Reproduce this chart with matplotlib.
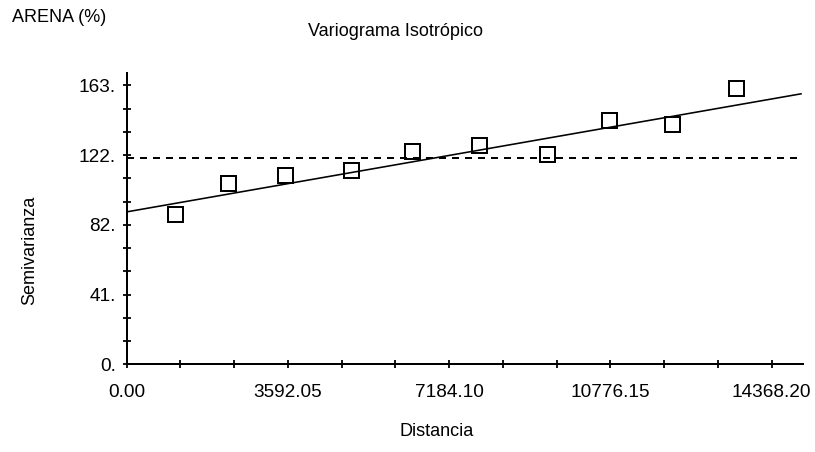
import matplotlib
matplotlib.use("Agg")
import matplotlib.pyplot as plt

# Experimental variogram points (distance, semivariance)
distancia = [1076, 2250, 3526, 4990, 6349, 7857, 9363, 10744, 12139, 13573]
semivarianza = [88.1, 106.0, 110.5, 113.4, 124.7, 127.9, 122.7, 142.9, 140.5, 161.6]

# Fitted linear model and sill (variance)
modelo_x = [0, 15021]
modelo_y = [89.1, 158.1]
meseta_x = [0, 14950]
meseta_y = [120.5, 120.5]

# Axis ticks
xtick_step = 1197.35
xticks = [i * xtick_step for i in range(13)]
xtick_labels = ["0.00", "", "", "3592.05", "", "", "7184.10", "", "",
                "10776.15", "", "", "14368.20"]
ytick_step = 163.0 / 12
yticks = [i * ytick_step for i in range(13)]
ytick_labels = ["0.", "", "", "41.", "", "", "82.", "", "",
                "122.", "", "", "163."]

plt.rcParams['font.family'] = ['Liberation Sans', 'DejaVu Sans']

W, H = 815, 452
fig = plt.figure(figsize=(W / 72, H / 72), dpi=72)
ax = fig.add_axes([126.7 / W, 1 - 364.3 / H, (803.3 - 126.7) / W, (364.3 - 73.3) / H])

ax.plot(modelo_x, modelo_y, color='black', lw=1.6, zorder=2)
ax.plot(meseta_x, meseta_y, color='black', lw=2, dashes=(3.5, 3), zorder=2)
ax.plot(distancia, semivarianza, linestyle='none', marker='s', ms=15,
        mfc='none', mec='black', mew=2, zorder=3)

ax.set_xlim(0, 15072)
ax.set_ylim(0, 170.1)
ax.set_xticks(xticks)
ax.set_xticklabels(xtick_labels)
ax.set_yticks(yticks)
ax.set_yticklabels(ytick_labels)

for s in ['top', 'right']:
    ax.spines[s].set_visible(False)
for s in ['left', 'bottom']:
    ax.spines[s].set_linewidth(2)
ax.tick_params(axis='both', direction='inout', length=8, width=1.8, labelsize=19)
ax.tick_params(axis='x', pad=16)
ax.tick_params(axis='y', pad=7)

fig.text(396 / W, 1 - 31 / H, "Variograma Isotrópico", ha='center', va='center', fontsize=18)
fig.text(12 / W, 1 - 17.5 / H, "ARENA (%)", ha='left', va='center', fontsize=18)
fig.text(29.5 / W, 1 - 250 / H, "Semivarianza", ha='center', va='center',
         rotation=90, fontsize=18)
fig.text(437 / W, 1 - 431 / H, "Distancia", ha='center', va='center', fontsize=18)

fig.savefig("out.png", dpi=72)
